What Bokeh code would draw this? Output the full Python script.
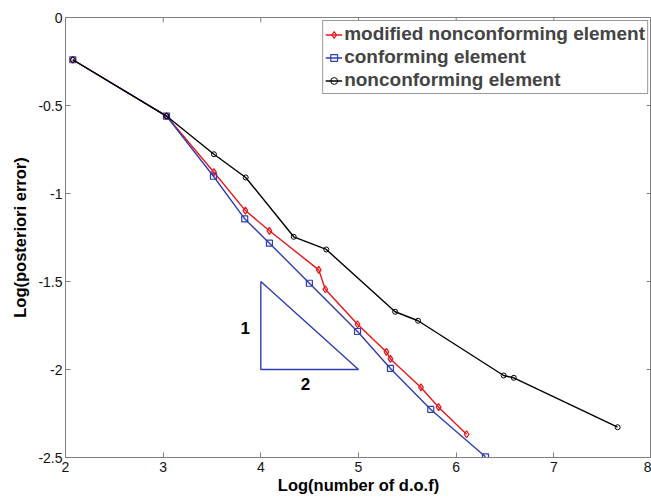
import math
from bokeh.plotting import figure
from bokeh.models import LinearAxis, FixedTicker, Legend, LegendItem
from bokeh.core.properties import value
from bokeh.embed import file_html
from bokeh.resources import INLINE

# Data
x_mod = [2.075, 3.034, 3.52, 3.842, 4.088, 4.593, 4.66, 4.99, 5.286, 5.327, 5.64, 5.82, 6.107]
y_mod = [-0.24, -0.56, -0.879, -1.097, -1.212, -1.434, -1.544, -1.743, -1.9, -1.94, -2.102, -2.214, -2.368]

x_con = [2.075, 3.034, 3.515, 3.835, 4.088, 4.497, 4.99, 5.327, 5.74, 6.30]
y_con = [-0.24, -0.56, -0.902, -1.144, -1.282, -1.51, -1.784, -1.994, -2.227, -2.496]

x_nc = [2.075, 3.034, 3.52, 3.845, 4.337, 4.67, 5.375, 5.61, 6.486, 6.59, 7.653]
y_nc = [-0.24, -0.56, -0.777, -0.909, -1.246, -1.318, -1.672, -1.723, -2.034, -2.047, -2.328]

tri_x = [4, 4, 5, 4]
tri_y = [-1.5, -2, -2, -1.5]
tri_label_x = [3.84, 4.456]
tri_label_y = [-1.767, -2.08]
tri_labels = ["1", "2"]

x_ticks = [2, 3, 4, 5, 6, 7, 8]
y_ticks = [0, -0.5, -1, -1.5, -2, -2.5]
y_tick_labels = ["0", "-0.5", "-1", "-1.5", "-2", "-2.5"]

X_MIN, X_MAX = 2, 8
Y_MIN, Y_MAX = -2.5, 0

RED = "#e8151b"
BLUE = "#2f3db5"
BLACK = "#000000"
AXIS_GRAY = "#7f7f7f"
FONT = "Liberation Sans"

p = figure(width=651, height=499, x_range=(X_MIN, X_MAX), y_range=(Y_MIN, Y_MAX),
           output_backend="svg", toolbar_location=None,
           min_border_left=65, min_border_top=17, min_border_right=0,
           min_border_bottom=42, x_axis_location=None, y_axis_location=None)
p.grid.visible = False
p.outline_line_color = AXIS_GRAY
p.background_fill_color = "white"


def style_axis(ax):
    ax.axis_line_color = AXIS_GRAY
    ax.major_tick_line_color = AXIS_GRAY
    ax.major_tick_in = 5
    ax.major_tick_out = 0
    ax.minor_tick_line_color = None
    ax.major_label_text_font = FONT
    ax.major_label_text_color = "#111111"
    ax.major_label_text_font_size = "14px"
    ax.axis_label_text_font = FONT
    ax.axis_label_text_font_style = "bold"
    ax.axis_label_text_color = "black"
    ax.axis_label_text_font_size = "16.5px"


xb = LinearAxis(ticker=FixedTicker(ticks=x_ticks), axis_label="Log(number of d.o.f)")
style_axis(xb)
xb.major_label_standoff = 4
xb.axis_label_standoff = 1
xb.major_label_overrides = {float(t): str(t) for t in x_ticks}
p.add_layout(xb, "below")

yl = LinearAxis(ticker=FixedTicker(ticks=y_ticks), axis_label="Log(posteriori error)")
style_axis(yl)
yl.major_label_standoff = 3
yl.axis_label_standoff = 6
yl.major_label_overrides = {float(t): s for t, s in zip(y_ticks, y_tick_labels)}
p.add_layout(yl, "left")

# Inward tick marks on the top and right edges of the box (half of each dash is clipped)
p.scatter(x_ticks, [Y_MAX] * len(x_ticks), marker="dash", angle=math.pi / 2,
          size=10, line_color=AXIS_GRAY, line_width=1)
p.scatter([X_MAX] * len(y_ticks), y_ticks, marker="dash",
          size=10, line_color=AXIS_GRAY, line_width=1)

# Series
l_mod = p.line(x_mod, y_mod, line_color=RED, line_width=1.4)
s_mod = p.scatter(x_mod, y_mod, marker="diamond", size=7, line_color=RED,
                  fill_color=None, line_width=1.2)
l_con = p.line(x_con, y_con, line_color=BLUE, line_width=1.4)
s_con = p.scatter(x_con, y_con, marker="square", size=6, line_color=BLUE,
                  fill_color=None, line_width=1.2)
l_nc = p.line(x_nc, y_nc, line_color=BLACK, line_width=1.4)
s_nc = p.scatter(x_nc, y_nc, marker="circle", size=5, line_color=BLACK,
                 fill_color=None, line_width=1.0)

# Slope triangle
p.line(tri_x, tri_y, line_color=BLUE, line_width=1.4)
p.text(tri_label_x, tri_label_y, text=tri_labels, text_font=value(FONT),
       text_font_style="bold", text_font_size="17px", text_align="center",
       text_baseline="middle", text_color="black")

legend = Legend(items=[
    LegendItem(label="modified nonconforming element", renderers=[l_mod, s_mod]),
    LegendItem(label="conforming element", renderers=[l_con, s_con]),
    LegendItem(label="nonconforming element", renderers=[l_nc, s_nc]),
], location="top_right")
legend.label_text_font = FONT
legend.label_text_font_size = "19px"
legend.label_text_font_style = "bold"
legend.label_standoff = 2
legend.glyph_width = 17
legend.glyph_height = 21
legend.label_height = 21
legend.spacing = 1
legend.padding = 2
legend.margin = 3
legend.border_line_color = "#333333"
legend.border_line_width = 1
legend.background_fill_alpha = 1.0
p.add_layout(legend, "center")

open("out.html", "w").write(file_html(p, INLINE))
